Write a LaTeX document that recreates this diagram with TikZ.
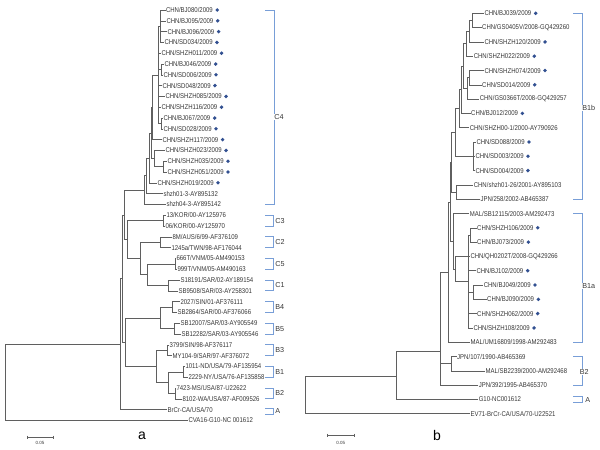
\documentclass[tikz,border=0pt]{standalone}
\usepackage{fontspec}
\setmainfont{Liberation Sans}
\newfontfamily\lblfont[FakeStretch=0.86]{Liberation Sans}
\definecolor{treegray}{RGB}{95,95,95}
\definecolor{txtgray}{RGB}{55,55,55}
\definecolor{cladeblue}{RGB}{120,158,215}
\definecolor{dotblue}{RGB}{50,80,145}
\newcommand{\bluedot}[1]{\fill[dotblue] ([xshift=3.8pt]#1.east) circle (1.9pt);}

\begin{document}
\begin{tikzpicture}[x=1pt, y=-1pt,
  leaf/.style={anchor=west, inner sep=0.5pt, outer sep=0pt, text=txtgray, font=\lblfont\fontsize{7}{8}\selectfont},
  br/.style={draw=treegray, line width=0.6pt},
  clade/.style={draw=cladeblue, line width=0.7pt},
  cl/.style={anchor=west, inner sep=0.6pt, text=txtgray, font=\fontsize{7.2}{8}\selectfont},
  panel/.style={font=\fontsize{14}{14}\selectfont, text=black}]
  \useasboundingbox (0,0) rectangle (600,450);

  % panel a: leaves
  \node[leaf] (a1) at (165.5,10) {CHN/BJ080/2009};
  \node[leaf] (a2) at (166,20.8) {CHN/BJ095/2009};
  \node[leaf] (a3) at (167,31.6) {CHN/BJ096/2009};
  \node[leaf] (a4) at (164,42.4) {CHN/SD034/2009};
  \node[leaf] (a5) at (161,53.2) {CHN/SHZH011/2009};
  \node[leaf] (a6) at (164,64) {CHN/BJ046/2009};
  \node[leaf] (a7) at (163,74.8) {CHN/SD006/2009};
  \node[leaf] (a8) at (162,85.6) {CHN/SD048/2009};
  \node[leaf] (a9) at (165,96.4) {CHN/SHZH085/2009};
  \node[leaf] (a10) at (161,107.2) {CHN/SHZH116/2009};
  \node[leaf] (a11) at (163,118) {CHN/BJ067/2009};
  \node[leaf] (a12) at (163,128.8) {CHN/SD028/2009};
  \node[leaf] (a13) at (162,139.6) {CHN/SHZH117/2009};
  \node[leaf] (a14) at (165,150.4) {CHN/SHZH023/2009};
  \node[leaf] (a15) at (167,161.2) {CHN/SHZH035/2009};
  \node[leaf] (a16) at (167,172) {CHN/SHZH051/2009};
  \node[leaf] (a17) at (157,182.8) {CHN/SHZH019/2009};
  \node[leaf] (a18) at (163,193.6) {shzh01-3-AY895132};
  \node[leaf] (a19) at (166,204.4) {shzh04-3-AY895142};
  \node[leaf] (a20) at (166,215.2) {13/KOR/00-AY125976};
  \node[leaf] (a21) at (165,226) {06/KOR/00-AY125970};
  \node[leaf] (a22) at (172,236.8) {8M/AUS/6/99-AF376109};
  \node[leaf] (a23) at (171,247.6) {1245a/TWN/98-AF176044};
  \node[leaf] (a24) at (176,258.4) {666T/VNM/05-AM490153};
  \node[leaf] (a25) at (177,269.2) {999T/VNM/05-AM490163};
  \node[leaf] (a26) at (180,280) {S18191/SAR/02-AY189154};
  \node[leaf] (a27) at (178,290.8) {SB9508/SAR/03-AY258301};
  \node[leaf] (a28) at (180,301.6) {2027/SIN/01-AF376111};
  \node[leaf] (a29) at (177,312.4) {SB2864/SAR/00-AF376066};
  \node[leaf] (a30) at (180,323.2) {SB12007/SAR/03-AY905549};
  \node[leaf] (a31) at (181,334) {SB12282/SAR/03-AY905546};
  \node[leaf] (a32) at (169,344.8) {3799/SIN/98-AF376117};
  \node[leaf] (a33) at (172,355.6) {MY104-9/SAR/97-AF376072};
  \node[leaf] (a34) at (185,366.4) {1011-ND/USA/79-AF135954};
  \node[leaf] (a35) at (188,377.2) {2229-NY/USA/76-AF135858};
  \node[leaf] (a36) at (176,388) {7423-MS/USA/87-U22622};
  \node[leaf] (a37) at (182,398.8) {8102-WA/USA/87-AF009526};
  \node[leaf] (a38) at (167,409.6) {BrCr-CA/USA/70};
  \node[leaf] (a39) at (188,420.4) {CVA16-G10-NC 001612};
  \bluedot{a1} \bluedot{a2} \bluedot{a3} \bluedot{a4} \bluedot{a5} \bluedot{a6}
  \bluedot{a7} \bluedot{a8} \bluedot{a9} \bluedot{a10} \bluedot{a11} \bluedot{a12}
  \bluedot{a13} \bluedot{a14} \bluedot{a15} \bluedot{a16} \bluedot{a17}

  % panel a: inner nodes
  \coordinate (aR) at (5,382.3);
  \coordinate (aX) at (120,344.2);
  \coordinate (aY) at (122,278.7);
  \coordinate (aC) at (124,214.8);
  \coordinate (aC4r) at (144,190);
  \coordinate (aC4b) at (146.5,175.7);
  \coordinate (aC4c) at (149.5,157.8);
  \coordinate (aC4d) at (151,132.8);
  \coordinate (aC4e) at (152.5,107);
  \coordinate (aTC) at (158.5,75);
  \coordinate (aTCa) at (160.5,26.2);
  \coordinate (aTCb) at (161.5,69.4);
  \coordinate (aTCc) at (161.5,123.4);
  \coordinate (aS23) at (154,158.5);
  \coordinate (aS35) at (163,166.6);
  \coordinate (aCx) at (127,239.6);
  \coordinate (aC3) at (163,220.6);
  \coordinate (aC251) at (140,258.4);
  \coordinate (aC2) at (160,242.2);
  \coordinate (aC51) at (147,274.6);
  \coordinate (aC5) at (175,263.8);
  \coordinate (aC1) at (168,285.4);
  \coordinate (aB) at (125,342.1);
  \coordinate (aB45) at (160,317.8);
  \coordinate (aB4) at (172,307);
  \coordinate (aB5) at (174,328.6);
  \coordinate (aB123) at (156,366.4);
  \coordinate (aB3) at (167,350.2);
  \coordinate (aB12) at (168,382.6);
  \coordinate (aB1) at (183,371.8);
  \coordinate (aB2) at (175,393.4);

  % panel a: branches
  \draw[br] (aR) |- (aX) (aR) |- (a39);
  \draw[br] (aX) |- (aY) (aX) |- (a38);
  \draw[br] (aY) |- (aC) (aY) |- (aB);
  \draw[br] (aC) |- (aC4r) (aC) |- (aCx);
  \draw[br] (aC4r) |- (aC4b) (aC4r) |- (a19);
  \draw[br] (aC4b) |- (aC4c) (aC4b) |- (a18);
  \draw[br] (aC4c) |- (aC4d) (aC4c) |- (a17);
  \draw[br] (aC4d) |- (aC4e) (aC4d) |- (aS23);
  \draw[br] (aC4e) |- (aTC) (aC4e) |- (a13);
  \draw[br] (aTC) |- (aTCa) (aTC) |- (a5) (aTC) |- (aTCb) (aTC) |- (a8)
    (aTC) |- (a9) (aTC) |- (a10) (aTC) |- (aTCc);
  \draw[br] (aTCa) |- (a1) (aTCa) |- (a2) (aTCa) |- (a3) (aTCa) |- (a4);
  \draw[br] (aTCb) |- (a6) (aTCb) |- (a7);
  \draw[br] (aTCc) |- (a11) (aTCc) |- (a12);
  \draw[br] (aS23) |- (a14) (aS23) |- (aS35);
  \draw[br] (aS35) |- (a15) (aS35) |- (a16);
  \draw[br] (aCx) |- (aC3) (aCx) |- (aC251);
  \draw[br] (aC3) |- (a20) (aC3) |- (a21);
  \draw[br] (aC251) |- (aC2) (aC251) |- (aC51);
  \draw[br] (aC2) |- (a22) (aC2) |- (a23);
  \draw[br] (aC51) |- (aC5) (aC51) |- (aC1);
  \draw[br] (aC5) |- (a24) (aC5) |- (a25);
  \draw[br] (aC1) |- (a26) (aC1) |- (a27);
  \draw[br] (aB) |- (aB45) (aB) |- (aB123);
  \draw[br] (aB45) |- (aB4) (aB45) |- (aB5);
  \draw[br] (aB4) |- (a28) (aB4) |- (a29);
  \draw[br] (aB5) |- (a30) (aB5) |- (a31);
  \draw[br] (aB123) |- (aB3) (aB123) |- (aB12);
  \draw[br] (aB3) |- (a32) (aB3) |- (a33);
  \draw[br] (aB12) |- (aB1) (aB12) |- (aB2);
  \draw[br] (aB1) |- (a34) (aB1) |- (a35);
  \draw[br] (aB2) |- (a36) (aB2) |- (a37);

  % panel a: clades
  \draw[clade] (265,10) -- (274,10) -- (274,204.4) -- (265,204.4);
  \draw[clade] (265,215.2) -- (273.5,215.2) -- (273.5,226) -- (265,226);
  \draw[clade] (265,236.8) -- (273.5,236.8) -- (273.5,247.6) -- (265,247.6);
  \draw[clade] (265,258.4) -- (273.5,258.4) -- (273.5,269.2) -- (265,269.2);
  \draw[clade] (265,280) -- (273.5,280) -- (273.5,290.8) -- (265,290.8);
  \draw[clade] (265,301.6) -- (273.5,301.6) -- (273.5,312.4) -- (265,312.4);
  \draw[clade] (265,323.2) -- (273.5,323.2) -- (273.5,334) -- (265,334);
  \draw[clade] (265,344.8) -- (273.5,344.8) -- (273.5,355.6) -- (265,355.6);
  \draw[clade] (265,366.4) -- (273.5,366.4) -- (273.5,377.2) -- (265,377.2);
  \draw[clade] (265,388) -- (273.5,388) -- (273.5,398.8) -- (265,398.8);
  \draw[clade] (265,408) -- (273.5,408) -- (273.5,414.5) -- (265,414.5);
  \node[cl, fill=white] (cC4) at (273.5,117) {C4};
  \node[cl] (cC3) at (274.5,220.6) {C3};
  \node[cl] (cC2) at (274.5,242.2) {C2};
  \node[cl] (cC5) at (274.5,263.8) {C5};
  \node[cl] (cC1) at (274.5,285.4) {C1};
  \node[cl] (cB4) at (274.5,307) {B4};
  \node[cl] (cB5) at (274.5,328.6) {B5};
  \node[cl] (cB3) at (274.5,350.2) {B3};
  \node[cl] (cB1) at (274.5,371.8) {B1};
  \node[cl] (cB2) at (274.5,393.4) {B2};
  \node[cl] (cA) at (274.5,411) {A};

  % panel a: scale and caption
  \draw[br, line width=0.5pt] (27,435.5) -- (27,438.5) (27,437) -- (53,437) (53,435.5) -- (53,438.5);
  \node[font=\fontsize{4.5}{5}\selectfont, text=txtgray] (sa) at (40,442.5) {0.05};
  \node[panel] (pa) at (142,436) {a};

  % panel b: leaves
  \node[leaf] (b1) at (484,13.3) {CHN/BJ039/2009};
  \node[leaf] (b2) at (481.7,27.6) {CHN/GS0405V/2008-GQ429260};
  \node[leaf] (b3) at (484,41.9) {CHN/SHZH120/2009};
  \node[leaf] (b4) at (473.3,56.2) {CHN/SHZH022/2009};
  \node[leaf] (b5) at (484,70.5) {CHN/SHZH074/2009};
  \node[leaf] (b6) at (481.7,84.8) {CHN/SD014/2009};
  \node[leaf] (b7) at (479.3,99.1) {CHN/GS0366T/2008-GQ429257};
  \node[leaf] (b8) at (470.7,113.4) {CHN/BJ012/2009};
  \node[leaf] (b9) at (469.3,127.7) {CHN/SHZH00-1/2000-AY790926};
  \node[leaf] (b10) at (476,142) {CHN/SD088/2009};
  \node[leaf] (b11) at (475,156.3) {CHN/SD003/2009};
  \node[leaf] (b12) at (475,170.6) {CHN/SD004/2009};
  \node[leaf] (b13) at (473.3,184.9) {CHN/shzh01-26/2001-AY895103};
  \node[leaf] (b14) at (480,199.2) {JPN/258/2002-AB465387};
  \node[leaf] (b15) at (469.3,213.5) {MAL/SB12115/2003-AM292473};
  \node[leaf] (b16) at (476.7,227.8) {CHN/SHZH106/2009};
  \node[leaf] (b17) at (476.7,242.1) {CHN/BJ073/2009};
  \node[leaf] (b18) at (470,256.4) {CHN/QH0202T/2008-GQ429266};
  \node[leaf] (b19) at (476,270.7) {CHN/BJ102/2009};
  \node[leaf] (b20) at (483.3,285) {CHN/BJ049/2009};
  \node[leaf] (b21) at (486.7,299.3) {CHN/BJ090/2009};
  \node[leaf] (b22) at (476.7,313.6) {CHN/SHZH062/2009};
  \node[leaf] (b23) at (473,327.9) {CHN/SHZH108/2009};
  \node[leaf] (b24) at (470,342.2) {MAL/UM16809/1998-AM292483};
  \node[leaf] (b25) at (456.7,356.5) {JPN/107/1990-AB465369};
  \node[leaf] (b26) at (485,370.8) {MAL/SB2239/2000-AM292468};
  \node[leaf] (b27) at (478.3,385.1) {JPN/392/1995-AB465370};
  \node[leaf] (b28) at (478.3,399.4) {G10-NC001612};
  \node[leaf] (b29) at (470,413.7) {EV71-BrCr-CA/USA/70-U22521};
  \bluedot{b1} \bluedot{b3} \bluedot{b4} \bluedot{b5} \bluedot{b6} \bluedot{b8}
  \bluedot{b10} \bluedot{b11} \bluedot{b12} \bluedot{b16} \bluedot{b17} \bluedot{b19}
  \bluedot{b20} \bluedot{b21} \bluedot{b22} \bluedot{b23}

  % panel b: inner nodes
  \coordinate (bR) at (305,394.8);
  \coordinate (bX) at (396.7,375.9);
  \coordinate (bZ) at (440,351.7);
  \coordinate (bB1) at (448.3,272);
  \coordinate (bB1ab) at (450,201.8);
  \coordinate (bB1b) at (451.7,162.3);
  \coordinate (bP9) at (455,132.5);
  \coordinate (bP8) at (459,108.7);
  \coordinate (bP7) at (461.7,89.7);
  \coordinate (bP4) at (463,66);
  \coordinate (bP3) at (466,43.7);
  \coordinate (bP2) at (469.3,31.2);
  \coordinate (bP1) at (472,20.45);
  \coordinate (bP6) at (467,88.4);
  \coordinate (bP5) at (469.3,77.65);
  \coordinate (bSD) at (473.3,156.3);
  \coordinate (bJP) at (456.7,192);
  \coordinate (bB1a) at (453.5,241.2);
  \coordinate (bAc) at (455,269);
  \coordinate (bA2) at (468.3,281.5);
  \coordinate (bA1) at (470,235);
  \coordinate (bA3) at (473.3,292.2);
  \coordinate (bB2) at (451.7,363.6);

  % panel b: branches
  \draw[br] (bR) |- (bX) (bR) |- (b29);
  \draw[br] (bX) |- (bZ) (bX) |- (b28);
  \draw[br] (bZ) |- (bB1) (bZ) |- (bB2) (bZ) |- (b27);
  \draw[br] (bB2) |- (b25) (bB2) |- (b26);
  \draw[br] (bB1) |- (bB1ab) (bB1) |- (b24);
  \draw[br] (bB1ab) |- (bB1b) (bB1ab) |- (bB1a);
  \draw[br] (bB1b) |- (bP9) (bB1b) |- (bJP);
  \draw[br] (bJP) |- (b13) (bJP) |- (b14);
  \draw[br] (bP9) |- (bP8) (bP9) |- (bSD);
  \draw[br] (bSD) |- (b10) (bSD) |- (b11) (bSD) |- (b12);
  \draw[br] (bP8) |- (bP7) (bP8) |- (b9);
  \draw[br] (bP7) |- (bP4) (bP7) |- (b8);
  \draw[br] (bP4) |- (bP3) (bP4) |- (bP6);
  \draw[br] (bP3) |- (bP2) (bP3) |- (b4);
  \draw[br] (bP2) |- (bP1) (bP2) |- (b3);
  \draw[br] (bP1) |- (b1) (bP1) |- (b2);
  \draw[br] (bP6) |- (bP5) (bP6) |- (b7);
  \draw[br] (bP5) |- (b5) (bP5) |- (b6);
  \draw[br] (bB1a) |- (b15) (bB1a) |- (bAc);
  \draw[br] (bAc) |- (b18) (bAc) |- (bA2);
  \draw[br] (bA2) |- (bA1) (bA2) |- (b19) (bA2) |- (bA3) (bA2) |- (b22) (bA2) |- (b23);
  \draw[br] (bA1) |- (b16) (bA1) |- (b17);
  \draw[br] (bA3) |- (b20) (bA3) |- (b21);

  % panel b: clades
  \draw[clade] (573,13.3) -- (582.7,13.3) -- (582.7,199.2) -- (573,199.2);
  \draw[clade] (573,213.5) -- (582.7,213.5) -- (582.7,342.2) -- (573,342.2);
  \draw[clade] (573,356.5) -- (582.7,356.5) -- (582.7,385.1) -- (573,385.1);
  \draw[clade] (573,396.7) -- (582.7,396.7) -- (582.7,402.7) -- (573,402.7);
  \node[cl, fill=white] (cB1b) at (581.5,108) {B1b};
  \node[cl, fill=white] (cB1a) at (581.5,285.7) {B1a};
  \node[cl, fill=white] (cB2b) at (579,371.7) {B2};
  \node[cl] (cAb) at (584.5,400) {A};

  % panel b: scale and caption
  \draw[br, line width=0.5pt] (327.3,433.5) -- (327.3,436.5) (327.3,435) -- (354,435) (354,433.5) -- (354,436.5);
  \node[font=\fontsize{4.5}{5}\selectfont, text=txtgray] (sb) at (340.7,442.5) {0.05};
  \node[panel] (pb) at (437,435) {b};
\end{tikzpicture}
\end{document}
